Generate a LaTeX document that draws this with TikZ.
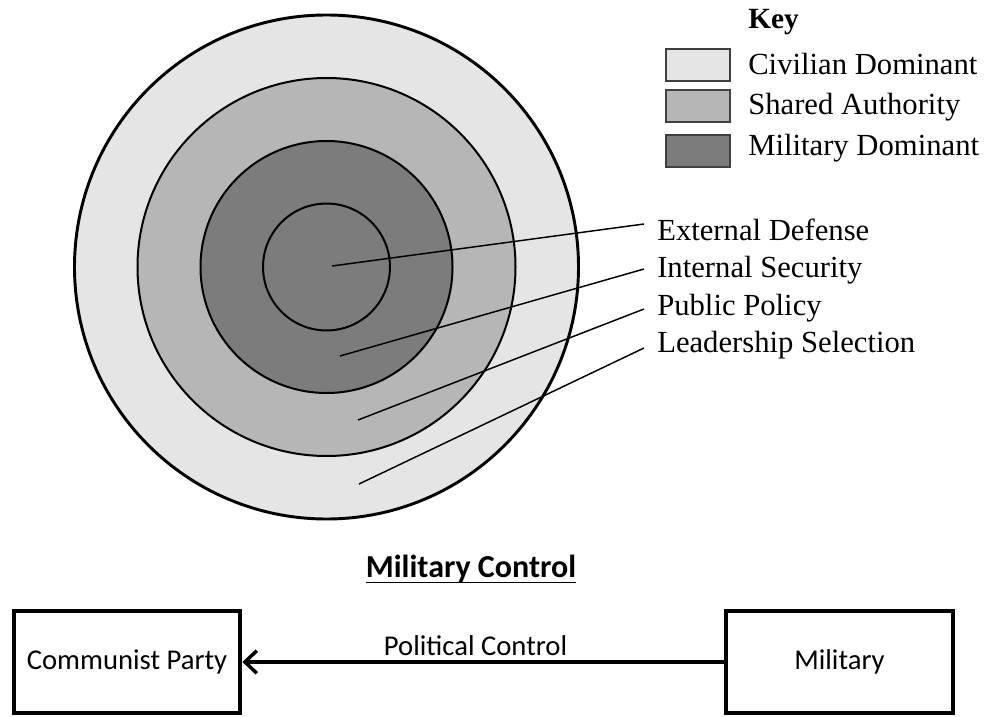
\documentclass[tikz,border=0pt]{standalone}
\usepackage{fontspec}
\setmainfont{Liberation Serif}
\newfontfamily\calibrifont{Carlito}
\usetikzlibrary{arrows.meta}
\definecolor{civilgray}{RGB}{229,229,229}
\definecolor{sharedgray}{RGB}{182,182,182}
\definecolor{milgray}{RGB}{124,124,124}

\begin{document}
\begin{tikzpicture}[x=0.75pt,y=-0.75pt,
    keybox/.style={draw=black!75, line width=1.4pt, minimum width=48pt, minimum height=23.5pt, inner sep=0},
    keytext/.style={anchor=base west, inner sep=0, font=\fontsize{23}{27}\selectfont},
    partbox/.style={draw, line width=3pt, minimum width=170pt, minimum height=77pt,
        font=\calibrifont\fontsize{21.5}{26}\selectfont}]
    \useasboundingbox (0,0) rectangle (993,717);

    % rings
    \coordinate (c) at (326.5,267);
    \filldraw[fill=civilgray, line width=2.2pt] (c) circle[radius=189pt];
    \filldraw[fill=sharedgray, line width=1.5pt] (c) circle[radius=141.75pt];
    \filldraw[fill=milgray, line width=1.5pt] (c) circle[radius=94.5pt];
    \draw[line width=1.5pt] (c) circle[radius=47.6pt];

    % key
    \node[anchor=base west, inner sep=0, font=\bfseries\fontsize{22}{26}\selectfont] (key) at (748,29) {Key};
    \node[keybox, fill=civilgray] (k1) at (698,65) {};
    \node[keybox, fill=sharedgray] (k2) at (698,106) {};
    \node[keybox, fill=milgray] (k3) at (698,151) {};
    \node[keytext] (civ) at (748,75) {Civilian Dominant};
    \node[keytext] (sha) at (748,115) {Shared Authority};
    \node[keytext] (dom) at (748,156) {Military Dominant};

    % issue areas
    \node[keytext] (ed) at (657,240) {External Defense};
    \node[keytext] (is) at (657,277) {Internal Security};
    \node[keytext] (pp) at (657,315) {Public Policy};
    \node[keytext] (ls) at (657,352) {Leadership Selection};

    \coordinate (ed-in) at (332,266);
    \coordinate (is-in) at (340,356);
    \coordinate (pp-in) at (358,420);
    \coordinate (ls-in) at (359,484);
    \coordinate (ed-out) at (644,224);
    \coordinate (is-out) at (644,269);
    \coordinate (pp-out) at (644,309);
    \coordinate (ls-out) at (644,348);

    \draw[line width=1.1pt] (ed-in) -- (ed-out);
    \draw[line width=1.1pt] (is-in) -- (is-out);
    \draw[line width=1.1pt] (pp-in) -- (pp-out);
    \draw[line width=1.1pt] (ls-in) -- (ls-out);

    % military control
    \node[anchor=base, inner sep=0, font=\calibrifont\bfseries\fontsize{24}{28}\selectfont] (title) at (471,577) {Military Control};
    \draw[line width=1.2pt] ([yshift=-4pt]title.base west) -- ([yshift=-4pt]title.base east);

    \node[partbox] (cp) at (127,662) {Communist Party};
    \node[partbox] (mil) at (839.5,662) {Military};

    \draw[-{Straight Barb[length=9pt,width=17pt,line width=2.6pt]}, line width=3pt] (mil) to node[above, pos=0.516, inner sep=3pt, font=\calibrifont\fontsize{21.5}{26}\selectfont] {Political Control} (cp);
\end{tikzpicture}
\end{document}
